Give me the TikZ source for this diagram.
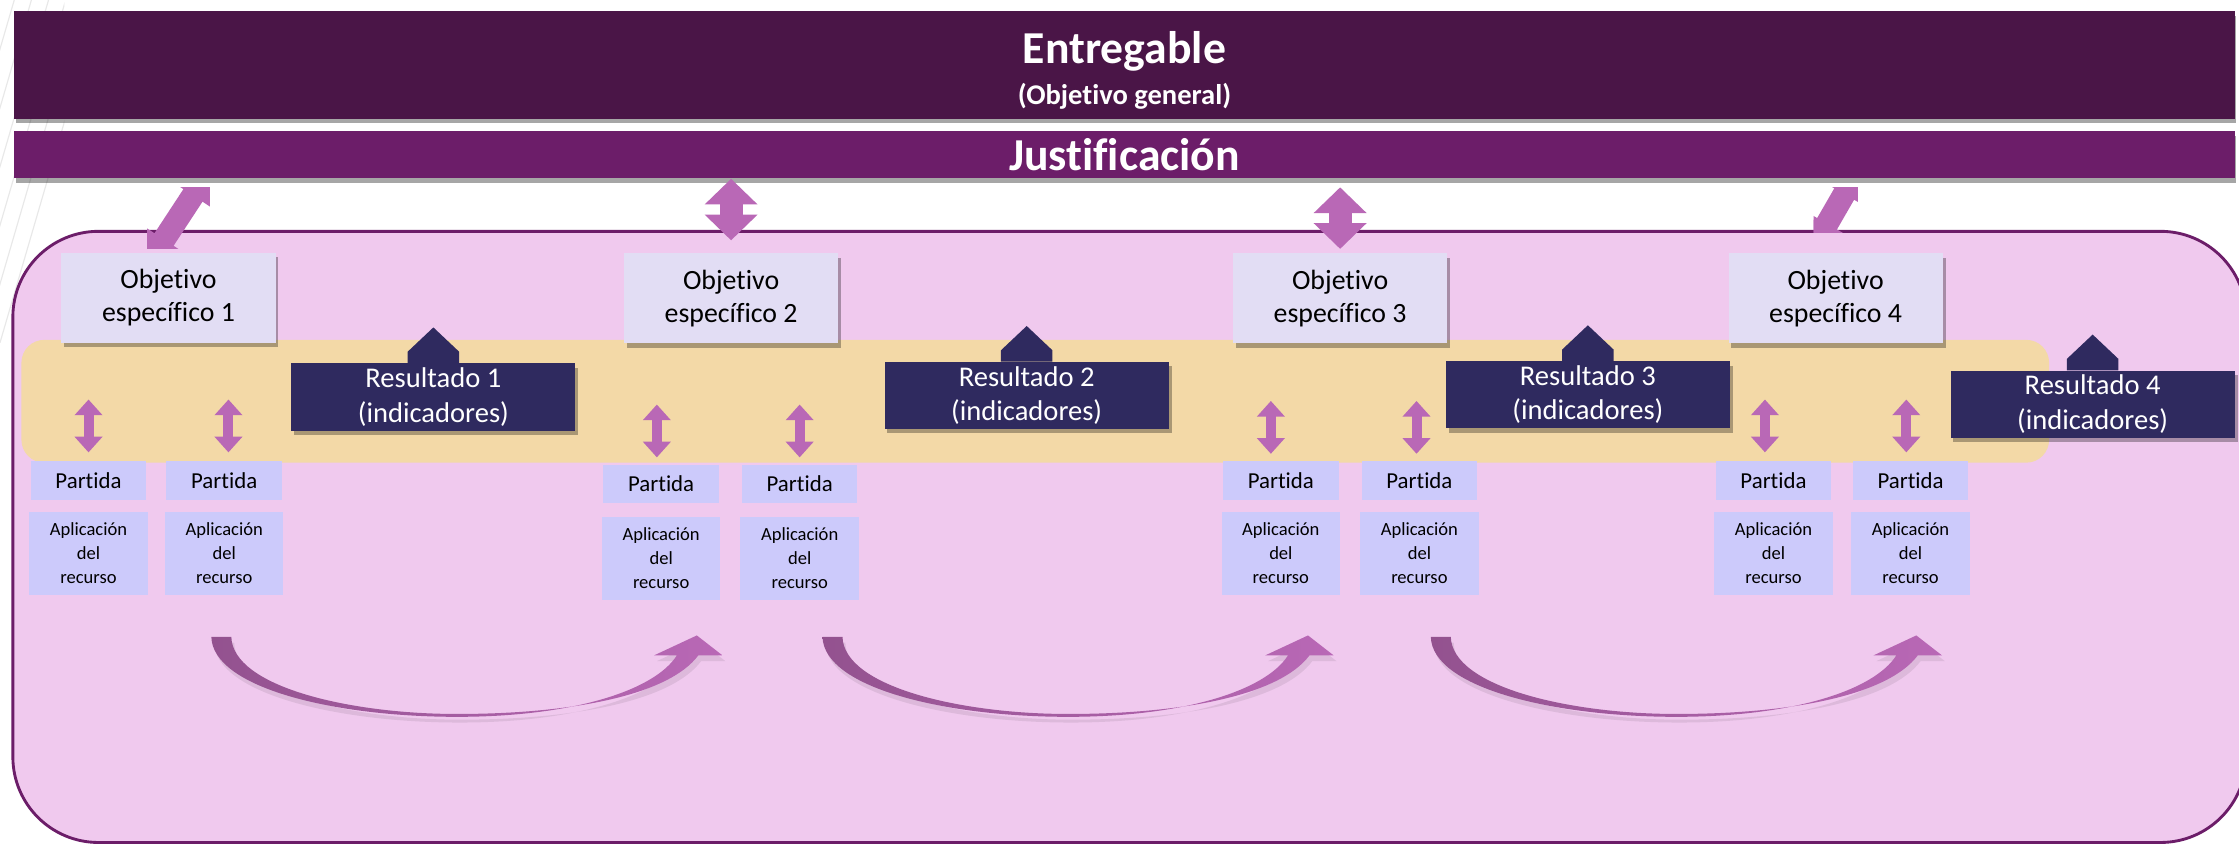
\documentclass[tikz,border=0pt]{standalone}
\usepackage{fontspec}
\setmainfont{Carlito}[RawFeature={-liga;-clig;-dlig;-calt;-hlig}]
\usetikzlibrary{arrows.meta,calc,positioning,shadows}

\definecolor{entcol}{HTML}{4A1547}
\definecolor{juscol}{HTML}{6C1D69}
\definecolor{panelcol}{HTML}{F0C9EE}
\definecolor{bandcol}{HTML}{F3D9A7}
\definecolor{objcol}{HTML}{E2DDF4}
\definecolor{rescol}{HTML}{2F2A5F}
\definecolor{partcol}{HTML}{CCCAFB}
\definecolor{linkcol}{HTML}{B968B6}
\definecolor{swooshdark}{HTML}{93528F}

\tikzset{
  headbar/.style={fill=#1, text=white, inner sep=0pt, minimum width=1555pt, align=center,
    drop shadow={shadow xshift=1pt, shadow yshift=-3pt, opacity=0.35, fill=black}},
  objbox/.style={fill=objcol, minimum width=150pt, minimum height=63pt, inner sep=0pt, align=center,
    font=\fontsize{19.5}{23}\selectfont,
    drop shadow={shadow xshift=2pt, shadow yshift=-3pt, opacity=0.3, fill=black}},
  resbox/.style={fill=rescol, text=white, minimum width=199pt, minimum height=47pt, inner sep=0pt, align=center,
    font=\fontsize{20}{24}\selectfont,
    drop shadow={shadow xshift=2pt, shadow yshift=-3pt, opacity=0.3, fill=black}},
  partbox/.style={fill=partcol, minimum width=81pt, minimum height=27pt, inner sep=0pt,
    font=\fontsize{16}{19}\selectfont},
  recbox/.style={fill=partcol, minimum width=83pt, minimum height=58pt, inner sep=0pt, align=center,
    font=\fontsize{13}{17}\selectfont},
  biglink/.style={draw=linkcol, line width=16pt, {Triangle[width=36pt,length=18pt]}-{Triangle[width=36pt,length=18pt]}},
  smalllink/.style={draw=linkcol, line width=7pt, {Triangle[width=19pt,length=11pt]}-{Triangle[width=19pt,length=11pt]}},
  hatchline/.style={draw=gray!18, line width=0.8pt}
}

% tail, dip and head of the curved arrow under each group
\newcommand{\swooshpath}{(148,446) .. controls (149,482) and (235,502) .. (320,502)
  .. controls (400,502) and (458,484) .. (474,459) -- (458,459) -- (488,445) -- (506,459) -- (489,459)
  .. controls (468,487) and (400,500) .. (320,500) .. controls (245,500) and (163,481) .. (162,446) -- cycle}
\newcommand{\swoosh}[1]{%
  \fill[black, opacity=0.08, shift={(#1+2,4)}] \swooshpath;
  \shade[left color=swooshdark, right color=linkcol, shift={(#1,0)}] \swooshpath;}

\begin{document}
\begin{tikzpicture}[x=1pt,y=-1pt]
\useasboundingbox (0,0) rectangle (1568,591);
\fill[white] (0,0) rectangle (1568,591);
\begin{scope}
  \clip (0,0) rectangle (45,240);
  \draw[hatchline] (-60,240) -- (10,0);
  \draw[hatchline] (-48,240) -- (22,0);
  \draw[hatchline] (-36,240) -- (34,0);
  \draw[hatchline] (-24,240) -- (46,0);
  \draw[hatchline] (-12,240) -- (58,0);
  \draw[hatchline] (0,240) -- (70,0);
\end{scope}

% titles
\node[headbar=entcol, minimum height=75pt, font=\bfseries] (entregable) at (787.5,45.5)
  {\rule{0pt}{30pt}\fontsize{32}{36}\selectfont Entregable\\[7pt]\fontsize{20}{24}\selectfont (Objetivo general)};
\node[headbar=juscol, minimum height=33pt, font=\fontsize{32}{36}\bfseries\selectfont] (just) at (787.5,108.5) {Justificación};

% panel and band
\draw[fill=panelcol, draw=juscol, line width=2pt, rounded corners=60pt] (9,162) rectangle (1573,590);
\fill[bandcol, rounded corners=16pt] (15,238) rectangle (1435,324);

% objectives
\node[objbox] (obj1) at (118,208.5) {Objetivo\\específico 1};
\node[objbox] (obj2) at (512,209) {Objetivo\\específico 2};
\node[objbox] (obj3) at (938.5,209) {Objetivo\\específico 3};
\node[objbox] (obj4) at (1285.5,209) {Objetivo\\específico 4};

\begin{scope}
  \clip (103,131) rectangle (147,174);
  \draw[biglink] ($(obj1.north)+(-13,6)$) -- ($(obj1.north)+(27,-55)$);
\end{scope}
\draw[biglink] (just.south -| obj2.north) -- ([yshift=9pt]obj2.north);
\draw[biglink] ([yshift=-6pt]just.south -| obj3.north) -- ([yshift=3pt]obj3.north);
\begin{scope}
  \clip (1270,131) rectangle (1301,163);
  \draw[biglink] ($(obj4.north)+(-15,-5)$) -- ($(obj4.north)+(15,-57)$);
\end{scope}

% results
\node[resbox] (res1) at (303.5,278) {Resultado 1\\(indicadores)};
\node[resbox] (res2) at (719,277) {Resultado 2\\(indicadores)};
\node[resbox] (res3) at (1112,276.5) {Resultado 3\\(indicadores)};
\node[resbox] (res4) at (1465.5,283) {Resultado 4\\(indicadores)};
\fill[rescol] ([xshift=-18pt]res1.north) -- ++(0,-8) -- ++(18,-17) -- ++(18,17) -- ++(0,8) -- cycle;
\fill[rescol] ([xshift=-18pt]res2.north) -- ++(0,-8) -- ++(18,-17) -- ++(18,17) -- ++(0,8) -- cycle;
\fill[rescol] ([xshift=-18pt]res3.north) -- ++(0,-8) -- ++(18,-17) -- ++(18,17) -- ++(0,8) -- cycle;
\fill[rescol] ([xshift=-18pt]res4.north) -- ++(0,-8) -- ++(18,-17) -- ++(18,17) -- ++(0,8) -- cycle;

% partidas
\node[partbox] (p11) at (62,336.5) {Partida};
\node[partbox] (p12) at (157,336.5) {Partida};
\node[partbox] (p21) at (463,339) {Partida};
\node[partbox] (p22) at (560,339) {Partida};
\node[partbox] (p31) at (897,336.5) {Partida};
\node[partbox] (p32) at (994,336.5) {Partida};
\node[partbox] (p41) at (1242,336.5) {Partida};
\node[partbox] (p42) at (1338,336.5) {Partida};

\node[recbox, below=8pt of p11] (r11) {Aplicación\\del\\recurso};
\node[recbox, below=8pt of p12] (r12) {Aplicación\\del\\recurso};
\node[recbox, below=9pt of p21] (r21) {Aplicación\\del\\recurso};
\node[recbox, below=9pt of p22] (r22) {Aplicación\\del\\recurso};
\node[recbox, below=8pt of p31] (r31) {Aplicación\\del\\recurso};
\node[recbox, below=8pt of p32] (r32) {Aplicación\\del\\recurso};
\node[recbox, below=8pt of p41] (r41) {Aplicación\\del\\recurso};
\node[recbox, below=8pt of p42] (r42) {Aplicación\\del\\recurso};

\draw[smalllink] ([yshift=6pt]p11.north) -- ++(0,-37);
\draw[smalllink] ([xshift=3pt,yshift=6pt]p12.north) -- ++(0,-37);
\draw[smalllink] ([xshift=-3pt,yshift=5pt]p21.north) -- ++(0,-37);
\draw[smalllink] ([yshift=5pt]p22.north) -- ++(0,-37);
\draw[smalllink] ([xshift=-7pt,yshift=5pt]p31.north) -- ++(0,-37);
\draw[smalllink] ([xshift=-2pt,yshift=5pt]p32.north) -- ++(0,-37);
\draw[smalllink] ([xshift=-6pt,yshift=6pt]p41.north) -- ++(0,-37);
\draw[smalllink] ([xshift=-3pt,yshift=6pt]p42.north) -- ++(0,-37);

% curved arrows
\swoosh{0}
\swoosh{428}
\swoosh{854}
\end{tikzpicture}
\end{document}
